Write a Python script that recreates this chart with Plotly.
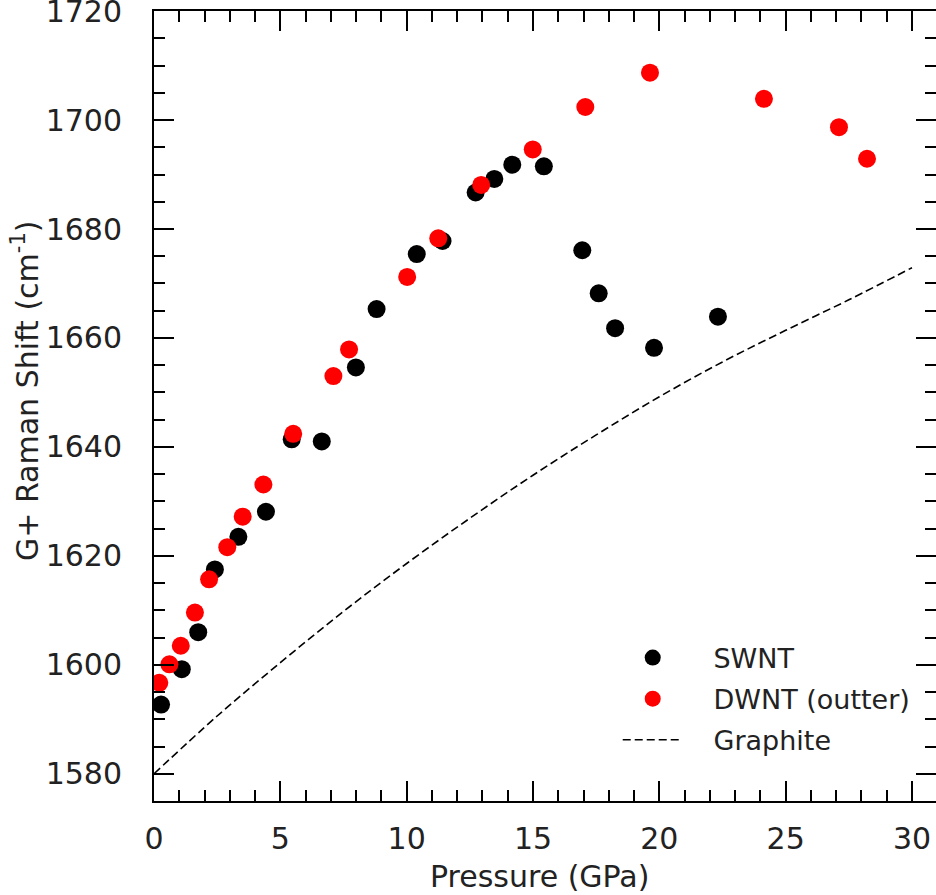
import plotly.graph_objects as go

# ---- data ----
swnt_p = [0.28, 1.10, 1.75, 2.41, 3.34, 4.43, 5.45, 6.64, 7.99, 8.81, 10.40, 11.42,
          12.73, 13.47, 14.18, 15.43, 16.95, 17.60, 18.25, 19.79, 22.32]
swnt_w = [1592.7, 1599.2, 1606.0, 1617.5, 1623.5, 1628.1, 1641.4, 1641.0, 1654.6, 1665.3,
          1675.4, 1677.8, 1686.7, 1689.2, 1691.8, 1691.5, 1676.1, 1668.2, 1661.8, 1658.2, 1663.9]

dwnt_p = [0.21, 0.61, 1.06, 1.62, 2.18, 2.90, 3.51, 4.33, 5.51, 7.10, 7.72, 10.02,
          11.25, 12.95, 14.99, 17.07, 19.63, 24.14, 27.11, 28.22]
dwnt_w = [1596.7, 1600.1, 1603.5, 1609.6, 1615.7, 1621.6, 1627.2, 1633.1, 1642.4, 1653.0,
          1657.9, 1671.2, 1678.3, 1688.1, 1694.6, 1702.4, 1708.7, 1703.9, 1698.7, 1692.9]

graphite_p = [0, 2.5, 5, 7.5, 10, 12.5, 15, 17.5, 20, 22.5, 25, 27.5, 30]
graphite_w = [1580.0, 1590.6, 1600.4, 1609.8, 1618.6, 1626.9, 1634.8, 1642.2,
              1649.2, 1655.6, 1661.4, 1667.0, 1672.9]

series_names = ["SWNT", "DWNT (outter)", "Graphite"]
x_label = "Pressure (GPa)"
y_label = "G+ Raman Shift (cm<sup>-1</sup>)"

FONT = "DejaVu Sans"
TXT = "#222222"
PAD = "\u00a0\u00a0\u00a0"  # gap between legend symbol and label

fig = go.Figure()
fig.add_trace(go.Scatter(x=swnt_p, y=swnt_w, mode="markers", name=PAD + series_names[0],
                         legendgroup="a",
                         marker=dict(color="black", size=18)))
fig.add_trace(go.Scatter(x=dwnt_p, y=dwnt_w, mode="markers", name=PAD + series_names[1],
                         legendgroup="b",
                         marker=dict(color="#ff0000", size=18)))
fig.add_trace(go.Scatter(x=graphite_p, y=graphite_w, mode="lines", name=PAD + series_names[2],
                         legendgroup="c",
                         line=dict(color="black", width=1.6, dash="8px,4px", shape="spline")))

axis_common = dict(
    showgrid=False, zeroline=False,
    showline=True, linecolor="black", linewidth=2, mirror="ticks",
    ticks="inside", ticklen=20, tickwidth=2, tickcolor="black",
    ticklabeloverflow="allow",
    tickfont=dict(family=FONT, size=30, color=TXT),
)

fig.update_xaxes(range=[0, 30.95], tick0=0, dtick=5,
                 minor=dict(dtick=1, ticks="inside", ticklen=11, tickwidth=2, tickcolor="black"),
                 ticklabelstandoff=10, **axis_common)
fig.update_yaxes(range=[1575, 1720.02], tick0=1580, dtick=20,
                 minor=dict(dtick=5, ticks="inside", ticklen=11, tickwidth=2, tickcolor="black"),
                 ticklabelstandoff=24, **axis_common)

fig.update_layout(
    width=936, height=895,
    margin=dict(l=154, r=0, t=11, b=94, autoexpand=False),
    plot_bgcolor="white", paper_bgcolor="white",
    font=dict(family=FONT, size=27, color=TXT),
    legend=dict(x=0.593, y=0.212, xanchor="left", yanchor="top",
                bgcolor="rgba(0,0,0,0)", itemwidth=60, tracegroupgap=3,
                font=dict(family=FONT, size=27, color=TXT)),
    annotations=[
        dict(text=x_label, xref="paper", yref="paper", x=0.4936, y=0,
             xanchor="center", yanchor="top", yshift=-56, showarrow=False,
             font=dict(family=FONT, size=30, color=TXT)),
        dict(text=y_label, xref="paper", yref="paper", x=0, y=0.519,
             xanchor="center", yanchor="middle", xshift=-128, textangle=-90,
             showarrow=False, font=dict(family=FONT, size=30, color=TXT)),
    ],
)

fig.write_html("out.html")
